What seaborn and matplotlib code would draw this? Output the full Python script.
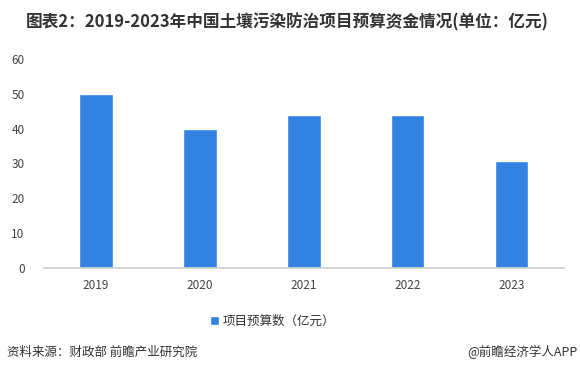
import matplotlib
matplotlib.use('Agg')
import matplotlib.pyplot as plt
import pandas as pd
import seaborn as sns

years = ["2019", "2020", "2021", "2022", "2023"]
budget = [50, 40, 44, 44, 30.7]
series_name = "项目预算数（亿元）"

sns.set_theme(style="white")
plt.rcParams['font.family'] = ['Noto Sans CJK SC', 'DejaVu Sans']

df = pd.DataFrame({"year": years, "value": budget})

fig = plt.figure(figsize=(5.8, 3.72), dpi=100)
ax = fig.add_axes([0.076, 0.280, 0.896, 0.561])

sns.barplot(data=df, x="year", y="value", color="#3282e2", width=0.32,
            saturation=1, ax=ax, label=series_name)

ax.set_ylim(0, 60)
ax.set_yticks(range(0, 61, 10))
ax.set_xlabel("")
ax.set_ylabel("")
for s in ["top", "right", "left"]:
    ax.spines[s].set_visible(False)
ax.spines["bottom"].set_color("#d0d0d0")
ax.tick_params(axis="both", labelsize=8.5, colors="#444444", length=0, pad=8)
ax.tick_params(axis="y", pad=14)

leg = ax.legend(loc="upper center", bbox_to_anchor=(0.44, -0.17), frameon=False,
                fontsize=9, handlelength=0.7, handleheight=0.7, handletextpad=0.3)
for t in leg.get_texts():
    t.set_color("#333333")

fig.text(0.495, 0.94, "图表2：2019-2023年中国土壤污染防治项目预算资金情况(单位：亿元)",
         ha="center", va="center", fontsize=12, fontweight="bold", color="#333333")
fig.text(0.012, 0.053, "资料来源：财政部 前瞻产业研究院", ha="left", va="center",
         fontsize=9, color="#333333")
fig.text(0.995, 0.053, "@前瞻经济学人APP", ha="right", va="center",
         fontsize=9, color="#333333")

fig.savefig("out.png", dpi=100, facecolor="white")
plt.close()
